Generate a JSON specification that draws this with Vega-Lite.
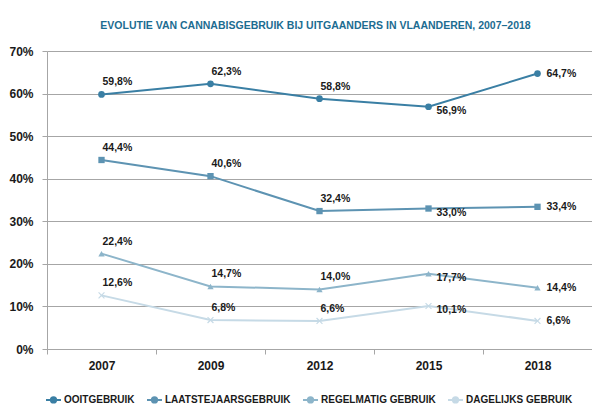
{
  "$schema": "https://vega.github.io/schema/vega-lite/v6.json",
  "width": 545,
  "height": 298,
  "autosize": "none",
  "padding": {"left": 47, "top": 51, "right": 0, "bottom": 56},
  "title": {
    "text": "EVOLUTIE VAN CANNABISGEBRUIK BIJ UITGAANDERS IN VLAANDEREN, 2007–2018",
    "anchor": "middle",
    "dx": -4,
    "offset": 14,
    "font": "Liberation Sans, Arial, sans-serif",
    "fontSize": 10.5,
    "fontWeight": "bold",
    "color": "#1c6c91"
  },
  "config": {
    "locale": {"number": {"decimal": ",", "thousands": ".", "grouping": [3], "currency": ["", " €"]}},
    "view": {"stroke": null},
    "font": "Liberation Sans, Arial, sans-serif"
  },
  "data": {
    "values": [
      {"year": "2007", "serie": "OOITGEBRUIK", "v": 0.598},
      {"year": "2009", "serie": "OOITGEBRUIK", "v": 0.623},
      {"year": "2012", "serie": "OOITGEBRUIK", "v": 0.588},
      {"year": "2015", "serie": "OOITGEBRUIK", "v": 0.569},
      {"year": "2018", "serie": "OOITGEBRUIK", "v": 0.647},
      {"year": "2007", "serie": "LAATSTEJAARSGEBRUIK", "v": 0.444},
      {"year": "2009", "serie": "LAATSTEJAARSGEBRUIK", "v": 0.406},
      {"year": "2012", "serie": "LAATSTEJAARSGEBRUIK", "v": 0.324},
      {"year": "2015", "serie": "LAATSTEJAARSGEBRUIK", "v": 0.330},
      {"year": "2018", "serie": "LAATSTEJAARSGEBRUIK", "v": 0.334},
      {"year": "2007", "serie": "REGELMATIG GEBRUIK", "v": 0.224},
      {"year": "2009", "serie": "REGELMATIG GEBRUIK", "v": 0.147},
      {"year": "2012", "serie": "REGELMATIG GEBRUIK", "v": 0.140},
      {"year": "2015", "serie": "REGELMATIG GEBRUIK", "v": 0.177},
      {"year": "2018", "serie": "REGELMATIG GEBRUIK", "v": 0.144},
      {"year": "2007", "serie": "DAGELIJKS GEBRUIK", "v": 0.126},
      {"year": "2009", "serie": "DAGELIJKS GEBRUIK", "v": 0.068},
      {"year": "2012", "serie": "DAGELIJKS GEBRUIK", "v": 0.066},
      {"year": "2015", "serie": "DAGELIJKS GEBRUIK", "v": 0.101},
      {"year": "2018", "serie": "DAGELIJKS GEBRUIK", "v": 0.066}
    ]
  },
  "encoding": {
    "x": {
      "field": "year", "type": "ordinal", "title": null,
      "scale": {"type": "band", "paddingInner": 0, "paddingOuter": 0},
      "axis": {
        "labelAngle": 0, "tickBand": "extent", "domainColor": "#a6a6a6", "tickColor": "#a6a6a6",
        "tickSize": 5, "labelPadding": 6, "labelFontSize": 12, "labelFontWeight": "bold", "labelColor": "#1a1a1a",
        "grid": false
      }
    },
    "y": {
      "field": "v", "type": "quantitative", "title": null,
      "scale": {"domain": [0, 0.7], "nice": false},
      "axis": {
        "values": [0, 0.1, 0.2, 0.3, 0.4, 0.5, 0.6, 0.7], "format": ".0%",
        "domainColor": "#a6a6a6", "tickColor": "#a6a6a6", "tickSize": 5, "labelPadding": 9,
        "gridColor": "#a6a6a6", "gridWidth": 1, "labelFontSize": 12, "labelFontWeight": "bold", "labelColor": "#1a1a1a"
      }
    },
    "color": {
      "field": "serie", "type": "nominal",
      "scale": {
        "domain": ["OOITGEBRUIK", "LAATSTEJAARSGEBRUIK", "REGELMATIG GEBRUIK", "DAGELIJKS GEBRUIK"],
        "range": ["#3a7fa4", "#5d93b2", "#8db5ca", "#c6dae6"]
      },
      "legend": {
        "orient": "none", "legendX": -2, "legendY": 340, "direction": "horizontal", "title": null,
        "symbolType": "M-1,0L1,0M0.35,0A0.35,0.35,0,1,1,-0.35,0A0.35,0.35,0,1,1,0.35,0Z",
        "symbolSize": 225, "symbolStrokeWidth": 2, "labelFontSize": 10, "labelFontWeight": "bold",
        "labelColor": "#1a1a1a", "labelOffset": 2, "columnPadding": 8,
        "encode": {
          "symbols": {
            "update": {},
            "stroke": {"value": {"expr": "scale('color', datum.value)"}},
            "fill": {"value": {"expr": "scale('color', datum.value)"}},
            "strokeWidth": {"value": 2}
          }
        }
      }
    }
  },
  "layer": [
    {"mark": {"type": "line", "strokeWidth": 2}},
    {
      "transform": [{"filter": {"field": "serie", "equal": "OOITGEBRUIK"}}],
      "mark": {"type": "point", "filled": true, "opacity": 1, "shape": "circle", "size": 45}
    },
    {
      "transform": [{"filter": {"field": "serie", "equal": "LAATSTEJAARSGEBRUIK"}}],
      "mark": {"type": "point", "filled": true, "opacity": 1, "shape": "square", "size": 40}
    },
    {
      "transform": [{"filter": {"field": "serie", "equal": "REGELMATIG GEBRUIK"}}],
      "mark": {"type": "point", "filled": true, "opacity": 1, "shape": "triangle-up", "size": 40}
    },
    {
      "transform": [{"filter": {"field": "serie", "equal": "DAGELIJKS GEBRUIK"}}],
      "mark": {"type": "point", "filled": true, "opacity": 1, "size": 45, "shape": "M-1,-0.75L-0.75,-1L0,-0.25L0.75,-1L1,-0.75L0.25,0L1,0.75L0.75,1L0,0.25L-0.75,1L-1,0.75L-0.25,0Z"}
    },
    {
      "transform": [{"filter": {"field": "year", "oneOf": ["2007", "2009", "2012"]}}],
      "mark": {"type": "text", "align": "left", "baseline": "bottom", "dx": 1, "dy": -7, "fontSize": 10.5, "fontWeight": "bold"},
      "encoding": {"text": {"field": "v", "type": "quantitative", "format": ".1%"}, "color": {"value": "#1a1a1a"}}
    },
    {
      "transform": [{"filter": {"field": "year", "equal": "2015"}}],
      "mark": {"type": "text", "align": "left", "baseline": "middle", "dx": 8, "dy": 4, "fontSize": 10.5, "fontWeight": "bold"},
      "encoding": {"text": {"field": "v", "type": "quantitative", "format": ".1%"}, "color": {"value": "#1a1a1a"}}
    },
    {
      "transform": [{"filter": {"field": "year", "equal": "2018"}}],
      "mark": {"type": "text", "align": "left", "baseline": "middle", "dx": 9, "dy": 0, "fontSize": 10.5, "fontWeight": "bold"},
      "encoding": {"text": {"field": "v", "type": "quantitative", "format": ".1%"}, "color": {"value": "#1a1a1a"}}
    }
  ]
}
